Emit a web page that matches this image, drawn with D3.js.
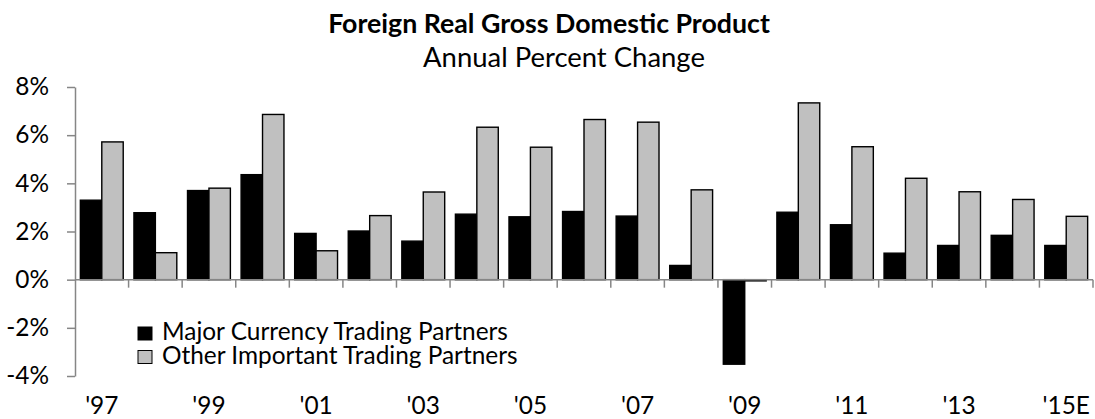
<!DOCTYPE html>
<html>
<head>
<meta charset="utf-8">
<script src="https://cdn.jsdelivr.net/npm/d3@7"></script>
<style>
  body { margin: 0; background: #fff; }
  text { font-family: Lato, "Open Sans", sans-serif; fill: #000; }
</style>
</head>
<body>
<div id="chart"></div>
<script>
// Chart data
const years = ["1997","1998","1999","2000","2001","2002","2003","2004","2005","2006",
               "2007","2008","2009","2010","2011","2012","2013","2014","2015"];
const yearLabels = ["'97","","'99","","'01","","'03","","'05","","'07","","'09","","'11","","'13","","'15E"];
const majorCurrency = [3.30, 2.78, 3.70, 4.36, 1.92, 2.02, 1.60, 2.72, 2.61, 2.83,
                       2.64, 0.59, -3.51, 2.80, 2.28, 1.10, 1.42, 1.84, 1.42];
const otherImportant = [5.72, 1.12, 3.80, 6.86, 1.20, 2.66, 3.64, 6.33, 5.50, 6.65,
                        6.54, 3.73, -0.05, 7.34, 5.52, 4.21, 3.65, 3.33, 2.63];
const seriesNames = ["Major Currency Trading Partners", "Other Important Trading Partners"];
const seriesColors = ["#000000", "#c0c0c0"];
const yTicks = [-4, -2, 0, 2, 4, 6, 8];

const width = 1095;
const height = 419;
const margin = {top: 87, right: 2, bottom: 43, left: 75};
const axisGray = "#868686";

const svg = d3.select("#chart")
    .append("svg")
    .attr("width", width)
    .attr("height", height);

// scale a text's font size so it spans the given width
function fitWidth(sel, target, start) {
    sel.attr("font-size", start);
    const w = sel.node().getComputedTextLength();
    const size = start * target / w;
    sel.attr("font-size", size);
    return size;
}

// Scales
const x0 = d3.scaleBand()
    .domain(years)
    .range([margin.left, width - margin.right])
    .padding(0);

const x1 = d3.scaleBand()
    .domain([0, 1])
    .range([0, x0.bandwidth()])
    .paddingInner(0)
    .paddingOuter(0.25);

const y = d3.scaleLinear()
    .domain([-4, 8])
    .range([height - margin.bottom, margin.top]);

// Title
const title = svg.append("text")
    .attr("x", 549)
    .attr("y", 33)
    .attr("text-anchor", "middle")
    .attr("font-weight", "bold")
    .text("Foreign Real Gross Domestic Product");
fitWidth(title, 442, 26);

const subtitle = svg.append("text")
    .attr("x", 564)
    .attr("y", 67)
    .attr("text-anchor", "middle")
    .text("Annual Percent Change");
fitWidth(subtitle, 282, 25);

// Legend (its fitted size is reused for axis labels)
const legend = svg.append("g");
let labelSize = 23;
seriesNames.forEach((name, i) => {
    legend.append("rect")
        .attr("x", 138)
        .attr("y", 327 + i * 23.5)
        .attr("width", 14)
        .attr("height", 13)
        .attr("fill", seriesColors[i])
        .attr("stroke", "#000")
        .attr("stroke-width", 1);
    const t = legend.append("text")
        .attr("x", 162)
        .attr("y", 340 + i * 24)
        .text(name);
    if (i === 0) labelSize = fitWidth(t, 346, 23);
    else t.attr("font-size", labelSize);
});

// Bars
const rows = years.map((yr, i) => ({year: yr, values: [majorCurrency[i], otherImportant[i]]}));

const groups = svg.selectAll(".group")
    .data(rows)
    .enter().append("g")
    .attr("class", "group")
    .attr("transform", d => `translate(${x0(d.year)},0)`);

groups.selectAll("rect")
    .data(d => d.values.map((v, k) => ({v, k})))
    .enter().append("rect")
    .attr("x", d => x1(d.k))
    .attr("width", x1.bandwidth())
    .attr("y", d => y(Math.max(0, d.v)))
    .attr("height", d => Math.abs(y(d.v) - y(0)))
    .attr("fill", d => seriesColors[d.k])
    .attr("stroke", "#000")
    .attr("stroke-width", 1.4);

// Y axis
const yAxis = svg.append("g")
    .attr("transform", `translate(${margin.left},0)`)
    .call(d3.axisLeft(y)
        .tickValues(yTicks)
        .tickFormat(d => d + "%")
        .tickSize(8)
        .tickSizeOuter(0)
        .tickPadding(18));
yAxis.select(".domain").attr("stroke", axisGray).attr("stroke-width", 1.5);
yAxis.selectAll(".tick line").attr("stroke", axisGray).attr("stroke-width", 1.5);
yAxis.selectAll(".tick text")
    .attr("font-family", "Lato, sans-serif")
    .attr("font-size", labelSize)
    .attr("fill", "#000");

// X axis along zero
const xAxis = svg.append("g");
xAxis.append("line")
    .attr("x1", margin.left)
    .attr("x2", width - margin.right)
    .attr("y1", y(0))
    .attr("y2", y(0))
    .attr("stroke", axisGray)
    .attr("stroke-width", 1.5);
xAxis.selectAll(".xtick")
    .data(years)
    .enter().append("line")
    .attr("class", "xtick")
    .attr("x1", d => x0(d) + x0.bandwidth())
    .attr("x2", d => x0(d) + x0.bandwidth())
    .attr("y1", y(0))
    .attr("y2", y(0) + 8)
    .attr("stroke", axisGray)
    .attr("stroke-width", 1.5);
xAxis.selectAll(".xlabel")
    .data(years)
    .enter().append("text")
    .attr("class", "xlabel")
    .attr("x", d => x0(d) + x0.bandwidth() / 2)
    .attr("y", 414)
    .attr("text-anchor", "middle")
    .attr("font-size", labelSize)
    .text((d, i) => yearLabels[i]);
</script>
</body>
</html>
